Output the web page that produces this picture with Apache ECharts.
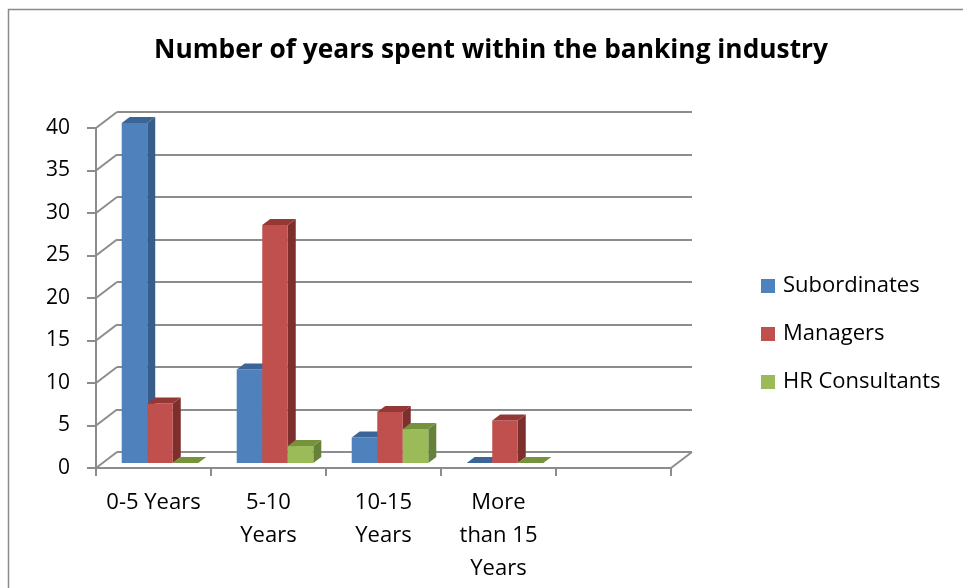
<!DOCTYPE html>
<html><head><meta charset="utf-8">
<script src="https://cdn.jsdelivr.net/npm/echarts@6/dist/echarts.min.js"></script>
<style>html,body{margin:0;padding:0;background:#fff}#c{width:963px;height:588px}</style>
</head><body><div id="c"></div>
<script>
// ---- data ----
const categories = ['0-5 Years', '5-10 Years', '10-15 Years', 'More than 15 Years', ''];
const tickLabels = ['0-5 Years', '5-10\nYears', '10-15\nYears', 'More\nthan 15\nYears', ''];
const seriesNames = ['Subordinates', 'Managers', 'HR Consultants'];
const subordinates = [40, 11, 3, 0];
const managers = [7, 28, 6, 5];
const hrConsultants = [0, 2, 4, 0];
const yTicks = [0, 5, 10, 15, 20, 25, 30, 35, 40];
const chartTitle = 'Number of years spent within the banking industry';

// ---- styling ----
const FONT = '"Open Sans"';
const GRID_COLOR = '#8c8c8c';
const DX = 21, DY = -16;          // depth of the 3D box
const BAR_D0 = 0.31, BAR_D1 = 0.69; // depth fraction occupied by bars
const BAR_FRAC = 0.222;
const palettes = [
  {front: '#4F81BD', side: '#385D8A', top: '#3C6597'},
  {front: '#C0504D', side: '#7D2F2D', top: '#953735'},
  {front: '#9BBB59', side: '#66813A', top: '#76923C'}
];
const values = [subordinates, managers, hrConsultants];

function makeBar(k) {
  return {
    type: 'custom', name: seriesNames[k], coordinateSystem: 'cartesian2d',
    xAxisIndex: 0, yAxisIndex: 0, z: 3,
    itemStyle: {color: palettes[k].front},
    data: values[k].map((v, i) => [i, v]),
    renderItem(params, api) {
      const ci = api.value(0), v = api.value(1);
      const b = api.coord([ci, 0]), t = api.coord([ci, v]);
      const bw = api.size([1, 0])[0] * BAR_FRAC;
      const sx = DX * BAR_D0, sy = DY * BAR_D0;
      const x0 = b[0] - 1.5 * bw + k * bw + sx, x1 = x0 + bw;
      const yb = b[1] + sy, yt = t[1] + sy;
      const dx = DX * (BAR_D1 - BAR_D0), dy = DY * (BAR_D1 - BAR_D0);
      const p = palettes[k];
      const ch = [];
      if (yb - yt > 0.5) {
        ch.push({type: 'polygon', shape: {points: [[x1, yb], [x1 + dx, yb + dy], [x1 + dx, yt + dy], [x1, yt]]}, style: {fill: p.side}});
        ch.push({type: 'rect', shape: {x: x0, y: yt, width: bw, height: yb - yt}, style: {fill: p.front}});
      }
      ch.push({type: 'polygon', shape: {points: [[x0, yt], [x1, yt], [x1 + dx, yt + dy], [x0 + dx, yt + dy]]}, style: {fill: p.top}});
      return {type: 'group', children: ch};
    }
  };
}

const chart = echarts.init(document.getElementById('c'), null, {renderer: 'canvas'});
const option = {
  backgroundColor: '#fff',
  animation: false,
  color: palettes.map(p => p.front),
  title: {
    text: chartTitle, left: 491, top: 31, textAlign: 'center', padding: 0,
    textStyle: {fontFamily: FONT, fontSize: 26.3, fontWeight: 'bold', color: '#000', lineHeight: 40}
  },
  legend: {
    data: seriesNames, orient: 'vertical', left: 761, top: 271, padding: 0,
    icon: 'rect', itemWidth: 14, itemHeight: 14, itemGap: 18,
    textStyle: {fontFamily: FONT, fontSize: 22, color: '#000', lineHeight: 30, padding: [0, 0, 0, 3]}
  },
  graphic: [{
    type: 'rect', shape: {x: 8.5, y: 9.5, width: 1200, height: 900},
    style: {fill: 'none', stroke: '#8a8a8a', lineWidth: 1.5}, silent: true, z: -10
  }],
  grid: [
    {left: 96, top: 128, width: 575, height: 340},
    {left: 117, top: 112, width: 575, height: 340}
  ],
  xAxis: [
    {
      type: 'category', gridIndex: 0, data: categories,
      axisLine: {show: true, lineStyle: {color: GRID_COLOR, width: 2}},
      axisTick: {show: true, length: 8, lineStyle: {color: GRID_COLOR, width: 2}},
      axisLabel: {
        interval: 0, margin: 18, fontFamily: FONT, fontSize: 22, lineHeight: 33, color: '#000',
        formatter: (val, idx) => tickLabels[idx]
      },
      splitLine: {show: false}
    },
    {
      type: 'category', gridIndex: 1, data: categories,
      axisLine: {show: false}, axisTick: {show: false}, axisLabel: {show: false}, splitLine: {show: false}
    }
  ],
  yAxis: [
    {
      type: 'value', gridIndex: 0, min: 0, max: 40, interval: 5,
      axisLine: {show: true, lineStyle: {color: GRID_COLOR, width: 2}},
      axisTick: {show: true, length: 9, lineStyle: {color: GRID_COLOR, width: 2}},
      axisLabel: {margin: 26, fontFamily: FONT, fontSize: 21, color: '#000', padding: [4, 0, 0, 0]},
      splitLine: {show: false}
    },
    {
      type: 'value', gridIndex: 1, min: 0, max: 40, interval: 5,
      axisLine: {show: false}, axisTick: {show: false}, axisLabel: {show: false},
      splitLine: {show: true, lineStyle: {color: GRID_COLOR, width: 2}}
    }
  ],
  series: [
    {
      type: 'custom', coordinateSystem: 'cartesian2d', xAxisIndex: 0, yAxisIndex: 0,
      silent: true, z: 1,
      data: yTicks.map(v => [0, v]),
      renderItem(params, api) {
        const cs = params.coordSys;
        const v = api.value(1);
        const y = api.coord([0, v])[1];
        const st = {stroke: GRID_COLOR, lineWidth: 2};
        const ch = [{type: 'line', shape: {x1: cs.x, y1: y, x2: cs.x + DX, y2: y + DY}, style: st}];
        if (v === 0) ch.push({type: 'line', shape: {x1: cs.x + cs.width, y1: y, x2: cs.x + cs.width + DX, y2: y + DY}, style: st});
        return {type: 'group', children: ch};
      }
    },
    makeBar(0), makeBar(1), makeBar(2)
  ]
};
chart.setOption(option);
</script>
</body></html>
